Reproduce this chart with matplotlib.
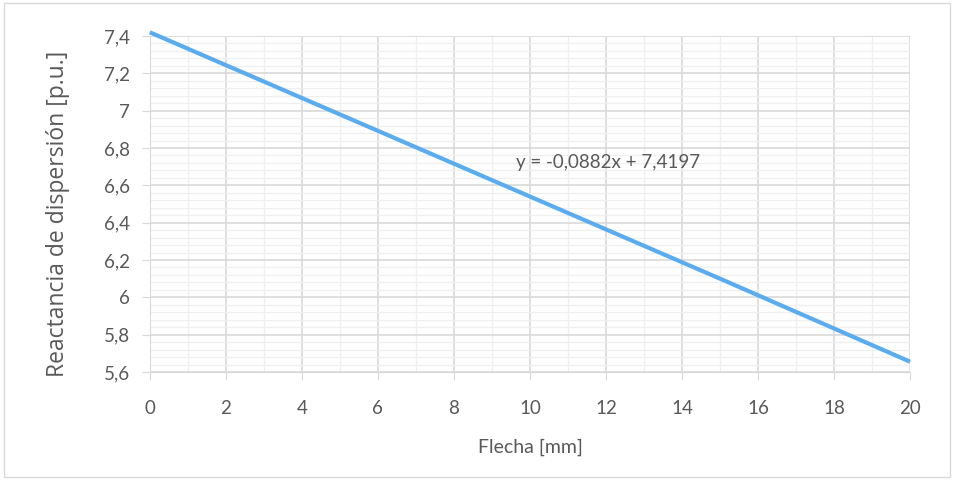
import matplotlib.pyplot as plt
from matplotlib.ticker import MultipleLocator, FuncFormatter
from matplotlib.patches import Rectangle

flecha = [0, 5, 10, 15, 20]
reactancia = [7.42, 6.98, 6.54, 6.10, 5.655]
ecuacion = "y = -0,0882x + 7,4197"

plt.rcParams['font.family'] = ['Lato', 'DejaVu Sans']
gris = '#595959'

fig = plt.figure(figsize=(9.54, 4.8), dpi=100)
ax = fig.add_axes([0.157, 0.225, 0.797, 0.70])

ax.plot(flecha, reactancia, color='#5aacee', linewidth=3, solid_capstyle='butt',
        clip_on=False)

ax.set_xlim(0, 20)
ax.set_ylim(5.6, 7.4)
ax.xaxis.set_major_locator(MultipleLocator(2))
ax.xaxis.set_minor_locator(MultipleLocator(1))
ax.yaxis.set_major_locator(MultipleLocator(0.2))
ax.yaxis.set_minor_locator(MultipleLocator(0.04))

def coma(v, pos):
    s = ('%.1f' % v).rstrip('0').rstrip('.')
    return s.replace('.', ',')

ax.yaxis.set_major_formatter(FuncFormatter(coma))
ax.xaxis.set_major_formatter(FuncFormatter(lambda v, p: '%d' % v))

ax.grid(which='major', color='#d9d9d9', linewidth=1.2)
ax.grid(which='minor', color='#efefef', linewidth=0.9)
ax.set_axisbelow(True)
for s in ax.spines.values():
    s.set_visible(False)
ax.spines['bottom'].set_visible(True)
ax.spines['bottom'].set_color('#d9d9d9')
ax.spines['left'].set_visible(True)
ax.spines['left'].set_color('#d9d9d9')

ax.tick_params(which='major', length=6, color='#d9d9d9', labelcolor=gris,
               labelsize=13.5, pad=8)
ax.tick_params(axis='x', which='major', pad=14)
ax.tick_params(which='minor', length=0)

ax.set_xlabel('Flecha [mm]', color=gris, fontsize=14, labelpad=16)
ax.set_ylabel('Reactancia de dispersión [p.u.]', color=gris, fontsize=16.5,
              family=['Open Sans', 'DejaVu Sans'])
ax.yaxis.set_label_coords(-0.105, 0.47)

ax.text(12.05, 6.725, ecuacion, color=gris, fontsize=13.5, ha='center', va='center')

fig.patches.append(Rectangle((0.004, 0.006), 0.992, 0.988, transform=fig.transFigure,
                             fill=False, edgecolor='#d9d9d9', linewidth=1))

fig.savefig('out.png', dpi=100)
